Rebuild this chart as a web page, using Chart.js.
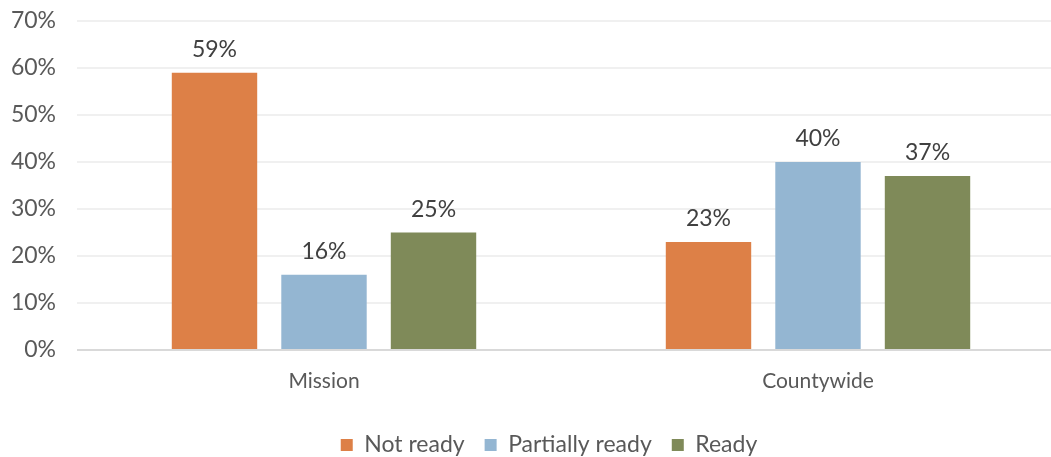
<!DOCTYPE html>
<html>
<head>
<meta charset="utf-8">
<script src="https://cdn.jsdelivr.net/npm/chart.js@4/dist/chart.umd.min.js"></script>
<style>
  html, body { margin: 0; padding: 0; background: #ffffff; overflow: hidden; }
  #wrap { width: 1051px; height: 457px; overflow: hidden; }
</style>
</head>
<body>
<div id="wrap"><canvas id="readiness" width="1065" height="457"></canvas></div>
<script>
const categories = ['Mission', 'Countywide'];
const seriesNames = ['Not ready', 'Partially ready', 'Ready'];
const notReady = [59, 23];
const partiallyReady = [16, 40];
const ready = [25, 37];
const yTicks = [0, 10, 20, 30, 40, 50, 60, 70];

const seriesColors = ['#DD8047', '#94B6D2', '#7F8A59'];
const FONT = 'Lato, "Open Sans", sans-serif';

// Percentage labels above each bar
const valueLabels = {
  id: 'valueLabels',
  afterDatasetsDraw(chart) {
    const ctx = chart.ctx;
    ctx.save();
    ctx.font = '23px ' + FONT;
    ctx.fillStyle = '#404040';
    ctx.textAlign = 'center';
    ctx.textBaseline = 'alphabetic';
    chart.data.datasets.forEach((ds, i) => {
      chart.getDatasetMeta(i).data.forEach((bar, j) => {
        ctx.fillText(ds.data[j] + '%', bar.x, bar.y - 16);
      });
    });
    ctx.restore();
  }
};

// Nudge the legend row so it sits a little right of the canvas centre
const legendShift = {
  id: 'legendShift',
  afterLayout(chart) {
    chart.legend.left += 16.5;
    chart.legend.right += 16.5;
  }
};

new Chart(document.getElementById('readiness'), {
  type: 'bar',
  data: {
    labels: categories,
    datasets: [
      { label: seriesNames[0], data: notReady, backgroundColor: seriesColors[0] },
      { label: seriesNames[1], data: partiallyReady, backgroundColor: seriesColors[1] },
      { label: seriesNames[2], data: ready, backgroundColor: seriesColors[2] }
    ]
  },
  options: {
    responsive: false,
    animation: false,
    events: [],
    categoryPercentage: 0.665,
    barPercentage: 0.78,
    layout: { padding: { top: 21, left: 0, right: 0, bottom: -9.5 } },
    plugins: {
      tooltip: { enabled: false },
      legend: {
        position: 'bottom',
        labels: {
          boxWidth: 12,
          boxHeight: 12,
          padding: 20,
          color: '#595959',
          font: { family: FONT, size: 23 }
        }
      }
    },
    scales: {
      x: {
        grid: { display: false },
        border: { display: false },
        ticks: { color: '#595959', padding: 11, font: { family: FONT, size: 21 } },
        afterFit(scale) { scale.height = 63.5; }
      },
      y: {
        min: 0,
        max: 70,
        afterBuildTicks(scale) { scale.ticks = yTicks.map(v => ({ value: v })); },
        afterFit(scale) {
          scale.width = 77;
          scale.paddingTop = 0;
          scale.paddingBottom = 0;
        },
        border: { display: false },
        grid: {
          drawTicks: false,
          lineWidth: 2,
          color: ctx => (ctx.tick && ctx.tick.value === 0) ? '#D9D9D9' : '#F0F0F0'
        },
        ticks: {
          color: '#595959',
          padding: 21,
          font: { family: FONT, size: 23 },
          callback: v => v + '%'
        }
      }
    }
  },
  plugins: [valueLabels, legendShift]
});
</script>
</body>
</html>
